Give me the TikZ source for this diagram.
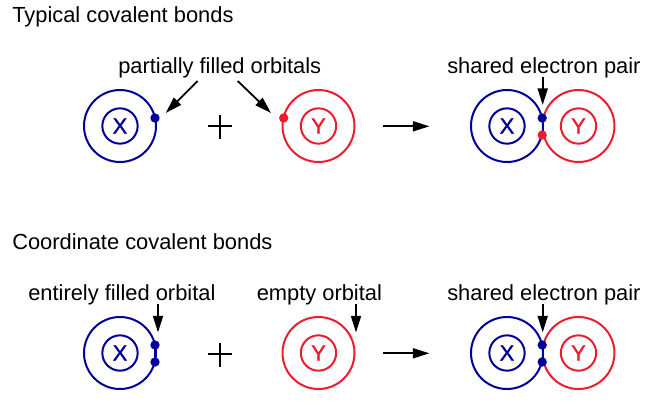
\documentclass[tikz,border=0pt]{standalone}
\usepackage{fontspec}
\setmainfont{Liberation Sans}
\newfontfamily\heavyfont[FakeBold=1.2]{Liberation Sans}
\usetikzlibrary{arrows.meta}
\definecolor{bl}{HTML}{000099}
\definecolor{rd}{HTML}{ED1C2E}
\tikzset{
 x=0.75pt,y=-0.75pt,
 lab/.style={anchor=base west,inner sep=0pt,font=\fontsize{14.4}{16}\selectfont},
 labw/.style={lab,font=\fontsize{16.4}{18}\selectfont},
 arr/.style={line width=1.35pt,-{Triangle[length=12.5pt,width=7.5pt]}},
 outerb/.style={circle,draw=bl,line width=1.5pt,minimum size=54pt,inner sep=0pt},
 outerr/.style={circle,draw=rd,line width=1.5pt,minimum size=54pt,inner sep=0pt},
 innerb/.style={circle,draw=bl,line width=1.5pt,minimum size=26.5pt,inner sep=0pt,text=bl,font=\heavyfont\fontsize{16.5}{16.5}\selectfont},
 innerr/.style={circle,draw=rd,line width=1.5pt,minimum size=26.5pt,inner sep=0pt,text=rd,font=\heavyfont\fontsize{16.5}{16.5}\selectfont},
 dotb/.style={circle,fill=bl,minimum size=7pt,inner sep=0pt},
 dotr/.style={circle,fill=rd,minimum size=7pt,inner sep=0pt},
 plusb/.style={line width=1.1pt,black},
 link/.style={line width=1.5pt,bl},
 rarc/.style={line width=1.5pt,rd}
}
\begin{document}
\begin{tikzpicture}
\useasboundingbox (0,0) rectangle (657,404);
% titles and labels
\node[labw] (t1) at (12,22) {Typical covalent bonds};
\node[labw] (t2) at (12,249) {Coordinate covalent bonds};
\node[labw] (l1) at (118,73) {partially filled orbitals};
\node[labw] (l2) at (447,73) {shared electron pair};
\node[labw] (l3) at (28,300.5) {entirely filled orbital};
\node[labw] (l4) at (256.5,300.5) {empty orbital};
\node[labw] (l5) at (447,300.5) {shared electron pair};
% top left
\node[outerb] (ax) at (120,126) {};
\node[innerb] (axi) at (120,126) {X};
\node[outerr] (ay) at (318.5,126) {};
\node[innerr] (ayi) at (318.5,126) {Y};
\node[dotb] (axd) at (155,118) {};
\node[dotr] (ayd) at (283.7,118) {};
% top right
\node[outerb] (bx) at (507,126) {};
\node[innerb] (bxi) at (507,126) {X};
\node[innerr] (byi) at (578.5,126) {Y};
\draw[rarc] (543.4,117.9) arc[start angle=167,end angle=-167,radius=27pt];
\draw[link] (542.7,118) -- (542.7,135);
\node[dotb] (bd1) at (542.2,118) {};
\node[dotr] (bd2) at (542.2,135) {};
% bottom left
\node[outerb] (cx) at (120,353) {};
\node[innerb] (cxi) at (120,353) {X};
\node[outerr] (cy) at (318.5,353) {};
\node[innerr] (cyi) at (318.5,353) {Y};
\draw[link] (155,345) -- (155,362);
\node[dotb] (cd1) at (155,345) {};
\node[dotb] (cd2) at (155,362) {};
% bottom right
\node[outerb] (dx) at (507,353) {};
\node[innerb] (dxi) at (507,353) {X};
\node[innerr] (dyi) at (578.5,353) {Y};
\draw[rarc] (543.4,344.9) arc[start angle=167,end angle=-167,radius=27pt];
\draw[link] (542.7,345) -- (542.7,362);
\node[dotb] (dd1) at (542.2,345) {};
\node[dotb] (dd2) at (542.2,362) {};
% plus signs
\draw[plusb] (208,126) -- (232,126) (220,114.5) -- (220,138.5);
\draw[plusb] (208,354) -- (232,354) (220,342.5) -- (220,366.5);
% arrows
\coordinate (a1s) at (197.7,81); \coordinate (a1e) at (165.7,113);
\coordinate (a2s) at (237.7,81); \coordinate (a2e) at (271,113);
\coordinate (a3s) at (542.7,77); \coordinate (a3e) at (542.7,105);
\coordinate (a4s) at (383,126.3); \coordinate (a4e) at (429.5,126.3);
\coordinate (a5s) at (158,304); \coordinate (a5e) at (158,332.5);
\coordinate (a6s) at (356,304); \coordinate (a6e) at (356,332.5);
\coordinate (a7s) at (542.7,304); \coordinate (a7e) at (542.7,332.5);
\coordinate (a8s) at (383,353.3); \coordinate (a8e) at (429.5,353.3);
\foreach \i in {1,...,8} \draw[arr] (a\i s) -- (a\i e);
\end{tikzpicture}
\end{document}
